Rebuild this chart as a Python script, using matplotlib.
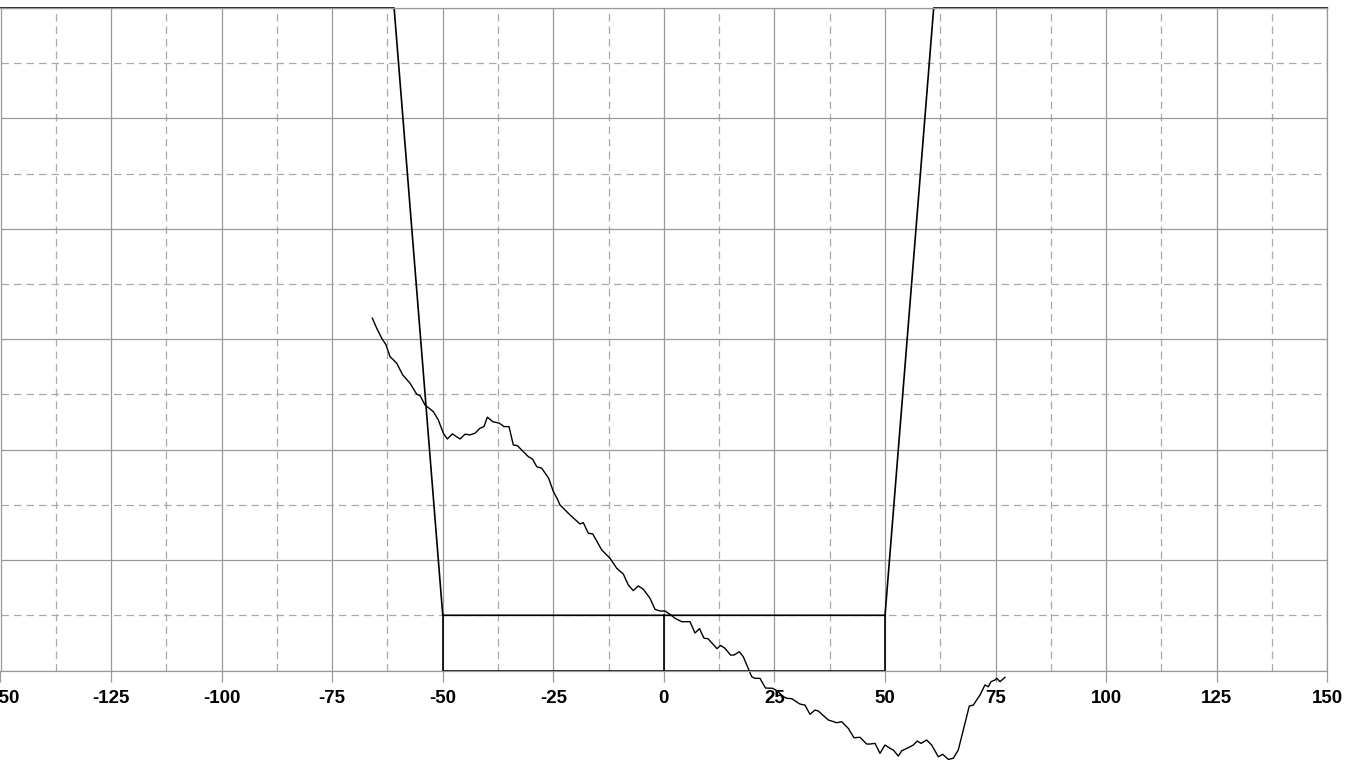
import numpy as np
import matplotlib.pyplot as plt
from matplotlib.ticker import MultipleLocator

plt.rcParams['font.family'] = ['Liberation Sans', 'DejaVu Sans']

# measured trace
trace_x = [-65.93, -64.94, -63.81, -62.83, -61.93, -60.41, -59.06, -57.41, -55.89, -55.15,
           -54.02, -52.14, -51.01, -49.88, -48.97, -47.84, -46.10, -44.97, -43.84, -42.71,
           -41.58, -40.68, -39.93, -38.71, -37.22, -36.15, -35.02, -34.05, -33.15, -31.79,
           -30.66, -29.66, -28.76, -27.63, -26.05, -25.01, -24.10, -23.49, -21.23, -18.97,
           -18.22, -17.09, -16.10, -14.06, -12.19, -10.67, -9.18, -8.05, -6.92, -5.79,
           -4.66, -3.14, -2.01, -0.88, 0.25, 1.38, 2.51, 4.02, 5.90, 7.03,
           8.05, 9.07, 9.97, 12.01, 12.84, 13.81, 15.06, 15.85, 17.05, 17.95,
           19.85, 20.60, 21.73, 22.97, 24.55, 25.57, 27.00, 27.83, 28.90, 30.77,
           31.90, 33.03, 34.16, 34.91, 37.17, 39.07, 40.20, 41.69, 42.98, 44.34,
           45.85, 46.60, 47.73, 48.86, 49.99, 51.51, 51.87, 53.00, 53.77, 55.26,
           56.39, 57.29, 58.13, 59.42, 60.55, 62.04, 63.04, 64.30, 65.43, 66.56,
           67.69, 69.05, 69.96, 71.47, 72.60, 73.35, 73.96, 74.86, 75.25, 75.99,
           77.12]
trace_y = [31.91, 31.00, 30.10, 29.49, 28.43, 27.83, 26.77, 26.02, 25.02, 24.90,
           24.05, 23.45, 22.70, 21.49, 20.97, 21.43, 20.97, 21.40, 21.34, 21.49,
           21.94, 22.09, 22.94, 22.54, 22.40, 22.09, 22.09, 20.43, 20.37, 19.82,
           19.37, 19.13, 18.46, 18.32, 17.41, 16.22, 15.54, 14.99, 14.09, 13.27,
           13.39, 12.43, 12.37, 10.92, 10.17, 9.26, 8.74, 7.75, 7.23, 7.66,
           7.36, 6.54, 5.54, 5.39, 5.39, 5.09, 4.73, 4.42, 4.42, 3.40,
           3.79, 2.92, 2.88, 1.98, 2.27, 2.01, 1.40, 1.40, 1.70, 1.25,
           -0.56, -0.71, -0.71, -1.59, -1.61, -1.83, -2.37, -2.52, -2.55, -3.04,
           -3.13, -3.97, -3.58, -3.67, -4.48, -4.73, -4.64, -5.24, -6.09, -6.05,
           -6.66, -6.66, -6.60, -7.50, -6.75, -7.14, -7.20, -7.75, -7.27, -6.99,
           -6.75, -6.39, -6.60, -6.30, -6.75, -7.81, -7.59, -8.05, -7.95, -7.20,
           -5.39, -3.22, -3.13, -2.22, -1.31, -1.47, -1.01, -0.86, -0.71, -1.01,
           -0.62]

# limit mask
mask_x = [-150, -61, -50, 50, 61, 150]
mask_y = [60, 60, 5, 5, 60, 60]
box_x = [-50, -50, 50, 50]
box_y = [5, 0, 0, 5]
center_x = [0, 0]
center_y = [0, 5]

xticks = [-150, -125, -100, -75, -50, -25, 0, 25, 50, 75, 100, 125, 150]

fig = plt.figure(figsize=(13.5, 7.65), dpi=100)
ax = fig.add_axes([0.5 / 1350, 94.5 / 765, 1326.8 / 1350, 662.5 / 765])
ax.set_xlim(-150, 150)
ax.set_ylim(0, 60)

ax.xaxis.set_major_locator(MultipleLocator(25))
ax.xaxis.set_minor_locator(MultipleLocator(12.5))
ax.yaxis.set_major_locator(MultipleLocator(10))
ax.yaxis.set_minor_locator(MultipleLocator(5))
ax.grid(which='major', color='#999999', linewidth=0.9, linestyle='-')
ax.grid(which='minor', color='#aaaaaa', linewidth=0.9, linestyle=(0, (6, 4)))
ax.set_axisbelow(True)

ax.set_xticks(xticks)
ax.set_xticklabels([str(v) for v in xticks], fontsize=13.5, fontweight='bold')
ax.tick_params(axis='x', which='major', length=8, width=0.9, color='#999999', pad=6)
ax.tick_params(axis='x', which='minor', length=0)
ax.tick_params(axis='y', which='both', length=0, labelleft=False)
for s in ax.spines.values():
    s.set_color('#999999')
    s.set_linewidth(0.9)

ax.plot(mask_x, mask_y, color='black', linewidth=1.2, clip_on=False)
ax.plot(box_x, box_y, color='black', linewidth=1.2)
ax.plot(center_x, center_y, color='black', linewidth=1.2)
ax.plot(trace_x, trace_y, color='black', linewidth=1.0, clip_on=False)

plt.savefig('out.png', dpi=100)
